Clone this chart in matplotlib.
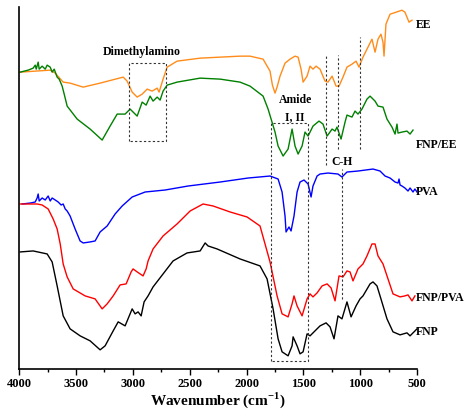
import matplotlib.pyplot as plt
from matplotlib.ticker import MultipleLocator

plt.rcParams['font.family'] = ['Liberation Serif', 'DejaVu Serif']
plt.rcParams['font.weight'] = 'bold'
plt.rcParams['mathtext.fontset'] = 'custom'
plt.rcParams['mathtext.rm'] = 'Liberation Serif:bold'
plt.rcParams['mathtext.bf'] = 'Liberation Serif:bold'

# FTIR spectra, wavenumber (cm-1) vs transmittance (a.u., stacked)
wn_ee = [3991, 3727, 3683, 3613, 3552, 3437, 3288, 3085, 3050, 3006, 2962, 2918, 2874, 2830,
         2786, 2769, 2734, 2698, 2611, 2408, 2057, 1969, 1854, 1793, 1772, 1749, 1731, 1705,
         1661, 1617, 1573, 1546, 1520, 1502, 1467, 1441, 1415, 1388, 1353, 1309, 1283, 1247,
         1212, 1186, 1151, 1116, 1072, 1036, 1010, 975, 940, 896, 869, 843, 817, 799, 790,
         773, 737, 632, 606, 570, 544]
t_ee = [297, 299, 296, 287, 286, 282, 286, 292, 288, 277, 272, 275, 280, 278,
        281, 277, 290, 302, 308, 311, 313, 313, 310, 298, 284, 276, 282, 293,
        306, 310, 313, 312, 300, 287, 293, 303, 300, 303, 300, 288, 287, 293,
        283, 283, 292, 302, 305, 308, 302, 312, 320, 330, 317, 330, 335, 327, 313,
        345, 355, 359, 357, 347, 349]

wn_fnp_ee = [3991, 3921, 3877, 3859, 3850, 3833, 3824, 3798, 3771, 3754, 3727, 3710, 3692,
             3666, 3648, 3622, 3604, 3578, 3490, 3376, 3270, 3200, 3138, 3068, 3024, 2962,
             2918, 2883, 2848, 2822, 2786, 2760, 2734, 2698, 2611, 2408, 2232, 2057, 1969,
             1854, 1810, 1749, 1722, 1678, 1634, 1599, 1573, 1546, 1511, 1485, 1458, 1415,
             1362, 1327, 1291, 1247, 1221, 1204, 1168, 1133, 1116, 1072, 1045, 1019, 984,
             940, 913, 869, 843, 799, 764, 720, 693, 676, 667, 632, 588, 561, 535]
t_fnp_ee = [297, 299, 301, 304, 300, 307, 300, 303, 300, 304, 302, 297, 300,
            292, 290, 283, 275, 263, 250, 240, 229, 243, 255, 255, 260, 253,
            267, 264, 273, 268, 272, 269, 278, 284, 287, 291, 290, 287, 283,
            273, 260, 237, 223, 213, 220, 240, 223, 215, 223, 237, 233, 243,
            248, 245, 233, 240, 238, 242, 230, 247, 254, 252, 258, 255, 260,
            270, 273, 268, 263, 262, 250, 242, 235, 245, 236, 237, 238, 235, 239]

wn_pva = [3974, 3900, 3859, 3842, 3833, 3824, 3798, 3771, 3745, 3727, 3710, 3683, 3657,
          3631, 3613, 3595, 3578, 3552, 3508, 3464, 3437, 3376, 3332, 3288, 3226, 3156,
          3094, 3006, 2892, 2716, 2514, 2232, 1986, 1793, 1722, 1687, 1661, 1652, 1626,
          1608, 1582, 1555, 1529, 1494, 1458, 1432, 1415, 1379, 1353, 1283, 1195, 1160,
          1116, 1019, 887, 825, 781, 737, 693, 667, 658, 649, 632, 606, 579, 561, 535,
          518, 500]
t_pva = [165, 166, 167, 171, 175, 168, 171, 169, 173, 168, 171, 169, 167,
         164, 165, 160, 158, 153, 140, 128, 126, 127, 128, 137, 143, 155,
         163, 172, 177, 179, 183, 187, 191, 193, 190, 177, 153, 137, 142,
         138, 153, 177, 187, 189, 185, 172, 183, 193, 195, 196, 195, 192,
         197, 198, 200, 198, 193, 191, 187, 186, 190, 184, 183, 181, 178, 181, 177,
         180, 177]

wn_fnp_pva = [3991, 3842, 3798, 3745, 3701, 3666, 3639, 3613, 3578, 3525, 3420, 3332, 3270,
              3226, 3173, 3112, 3059, 3015, 2998, 2962, 2936, 2910, 2883, 2866, 2822, 2734,
              2611, 2496, 2382, 2294, 2144, 1995, 1881, 1837, 1793, 1731, 1687, 1634, 1599,
              1582, 1555, 1511, 1467, 1441, 1415, 1379, 1335, 1291, 1256, 1221, 1186, 1151,
              1116, 1089, 1063, 1019, 975, 940, 896, 869, 843, 799, 755, 711, 649, 606,
              579, 544, 518]
t_fnp_pva = [165, 165, 164, 160, 150, 140, 125, 105, 92, 80, 73, 70, 60,
             65, 73, 84, 85, 97, 100, 97, 95, 93, 100, 108, 120, 133,
             145, 158, 165, 163, 157, 152, 143, 125, 107, 73, 55, 52, 65,
             73, 63, 53, 70, 75, 72, 76, 83, 85, 81, 68, 93, 92,
             98, 97, 88, 100, 105, 113, 125, 125, 113, 105, 90, 75, 72, 73,
             74, 68, 73]

wn_fnp = [3991, 3877, 3754, 3710, 3666, 3613, 3552, 3464, 3376, 3288, 3244, 3173, 3129,
          3068, 3006, 2980, 2954, 2927, 2901, 2866, 2822, 2734, 2646, 2523, 2408, 2364,
          2338, 2259, 2057, 1881, 1819, 1766, 1722, 1687, 1634, 1599, 1590, 1555, 1529,
          1502, 1467, 1441, 1397, 1353, 1300, 1265, 1230, 1195, 1160, 1116, 1080, 1036,
          1001, 975, 913, 887, 852, 825, 764, 711, 649, 588, 561, 526, 500]
t_fnp = [117, 118, 115, 107, 83, 53, 40, 33, 28, 19, 23, 38, 47,
         43, 60, 55, 57, 53, 67, 73, 82, 95, 108, 116, 118, 126,
         123, 120, 110, 103, 90, 60, 30, 17, 13, 23, 32, 23, 15,
         17, 35, 33, 38, 43, 46, 42, 30, 53, 50, 67, 52, 63,
         70, 73, 85, 87, 83, 73, 50, 37, 34, 36, 33, 37, 40]

series = [
    (wn_ee, t_ee, '#FF8C1A', 'EE', 345),
    (wn_fnp_ee, t_fnp_ee, '#008000', 'FNP/EE', 225),
    (wn_pva, t_pva, '#0000FF', 'PVA', 178),
    (wn_fnp_pva, t_fnp_pva, '#FF0000', 'FNP/PVA', 72),
    (wn_fnp, t_fnp, 'black', 'FNP', 38),
]

fig = plt.figure(figsize=(4.68, 4.10), dpi=100)
ax = fig.add_axes([0.041, 0.098, 0.85, 0.882])

for x, y, c, name, ly in series:
    ax.plot(x, y, color=c, lw=1.0)
    ax.text(512, ly, name, fontsize=8.5, fontweight='bold', va='center', ha='left', clip_on=False)

# marker boxes and guide lines
box = dict(color='#333333', lw=0.8, ls=(0, (2, 2)))
ax.plot([3030, 3030, 2710, 2710, 3030], [228, 306, 306, 228, 228], **box)
ax.plot([1787, 1787, 1456, 1456, 1787], [8, 246, 246, 8, 8], **box)
ax.plot([1300, 1300], [204, 314], **box)
ax.plot([1192, 1192], [220, 314], **box)
ax.plot([1001, 1001], [220, 332], **box)
ax.plot([1160, 1160], [70, 200], **box)

ax.text(2924, 318, 'Dimethylamino', fontsize=8.5, fontweight='bold', ha='center', va='center')
ax.text(1573, 270, 'Amide', fontsize=8.5, fontweight='bold', ha='center', va='center')
ax.text(1573, 253, 'I, II', fontsize=8.5, fontweight='bold', ha='center', va='center')
ax.text(1160, 208, 'C-H', fontsize=8.5, fontweight='bold', ha='center', va='center')

ax.set_xlim(4000, 500)
ax.set_ylim(0, 362)
ax.xaxis.set_major_locator(MultipleLocator(500))
ax.xaxis.set_minor_locator(MultipleLocator(250))
ax.tick_params(axis='x', direction='out', length=4, width=1, labelsize=9, pad=2)
ax.tick_params(axis='x', which='minor', direction='out', length=2.5, width=1)
ax.set_yticks([])
ax.spines['top'].set_visible(False)
ax.spines['right'].set_visible(False)
ax.spines['left'].set_linewidth(1.2)
ax.spines['bottom'].set_linewidth(1.2)
for lbl in ax.get_xticklabels():
    lbl.set_fontweight('bold')
ax.set_xlabel('Wavenumber (cm$^{-1}$)', fontsize=11, fontweight='bold', labelpad=0)

fig.savefig('out.png', dpi=100)
